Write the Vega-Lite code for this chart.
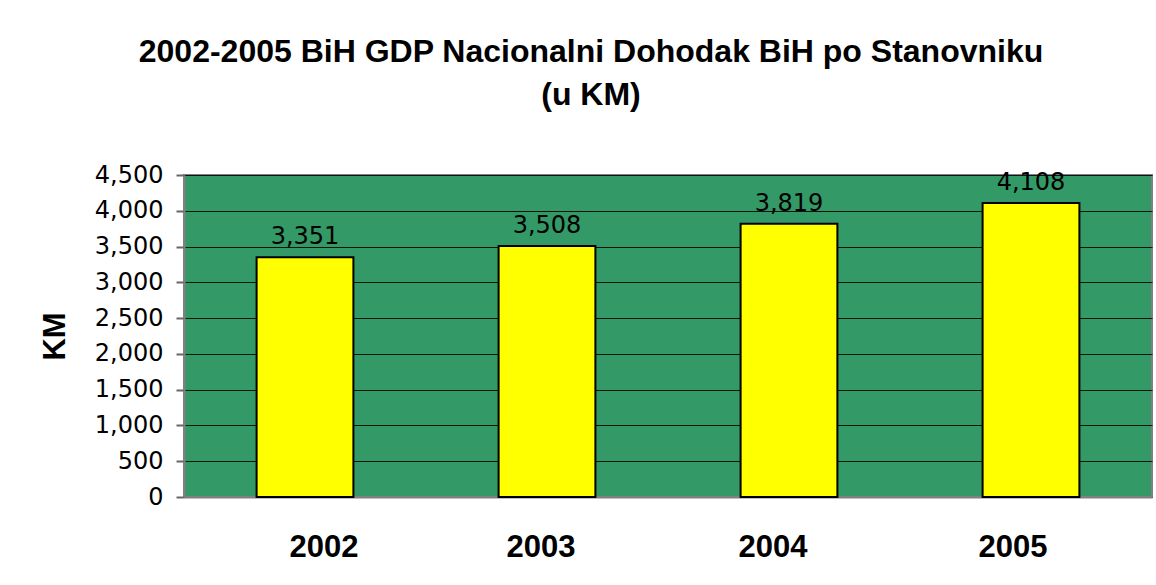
{
  "$schema": "https://vega.github.io/schema/vega-lite/v6.json",
  "autosize": "none",
  "width": 968,
  "height": 322,
  "padding": {"left": 184, "top": 175, "right": 4, "bottom": 88},
  "background": "white",
  "title": {
    "text": ["2002-2005 BiH GDP Nacionalni Dohodak BiH po Stanovniku", "(u KM)"],
    "font": "Liberation Sans",
    "fontSize": 32,
    "fontWeight": "bold",
    "color": "#000000",
    "lineHeight": 43,
    "anchor": "middle",
    "dx": -77,
    "offset": 51
  },
  "data": {
    "values": [
      {"year": "2002", "km": 3351},
      {"year": "2003", "km": 3508},
      {"year": "2004", "km": 3819},
      {"year": "2005", "km": 4108}
    ]
  },
  "encoding": {
    "x": {
      "field": "year",
      "type": "nominal",
      "sort": null,
      "scale": {"paddingInner": 0.6, "paddingOuter": 0.3},
      "axis": {
        "title": null,
        "labelAngle": 0,
        "labelFont": "Liberation Sans",
        "labelFontSize": 31,
        "labelFontWeight": "bold",
        "labelColor": "#000000",
        "labelBaseline": "alphabetic",
        "labelPadding": 59,
        "labelOffset": {
          "condition": [
            {"test": "datum.value == '2002'", "value": 19},
            {"test": "datum.value == '2003'", "value": -6},
            {"test": "datum.value == '2004'", "value": -16}
          ],
          "value": -18
        },
        "ticks": false,
        "domainColor": "#808080",
        "domainWidth": 2,
        "grid": false
      }
    },
    "y": {
      "field": "km",
      "type": "quantitative",
      "scale": {"domain": [0, 4500], "nice": false},
      "axis": {
        "title": "KM",
        "titleFont": "Liberation Sans",
        "titleFontSize": 31,
        "titleFontWeight": "bold",
        "titleColor": "#000000",
        "titlePadding": 23,
        "values": [0, 500, 1000, 1500, 2000, 2500, 3000, 3500, 4000, 4500],
        "format": ",.0f",
        "labelFont": "DejaVu Sans",
        "labelFontSize": 24,
        "labelColor": "#000000",
        "labelPadding": 13,
        "tickSize": 8,
        "tickColor": "#666666",
        "tickWidth": 2,
        "domainColor": "#808080",
        "domainWidth": 2,
        "grid": true,
        "gridColor": "#000000",
        "gridWidth": 1,
        "gridOpacity": 0.85
      }
    }
  },
  "layer": [
    {
      "mark": {"type": "bar", "color": "#FFFF00", "stroke": "#000000", "strokeWidth": 2}
    },
    {
      "mark": {
        "type": "text",
        "font": "DejaVu Sans",
        "fontSize": 24,
        "color": "#000000",
        "baseline": "alphabetic",
        "dy": -13
      },
      "encoding": {
        "text": {"field": "km", "type": "quantitative", "format": ","}
      }
    }
  ],
  "config": {
    "view": {"fill": "#339966", "stroke": "#808080", "strokeWidth": 2}
  }
}
